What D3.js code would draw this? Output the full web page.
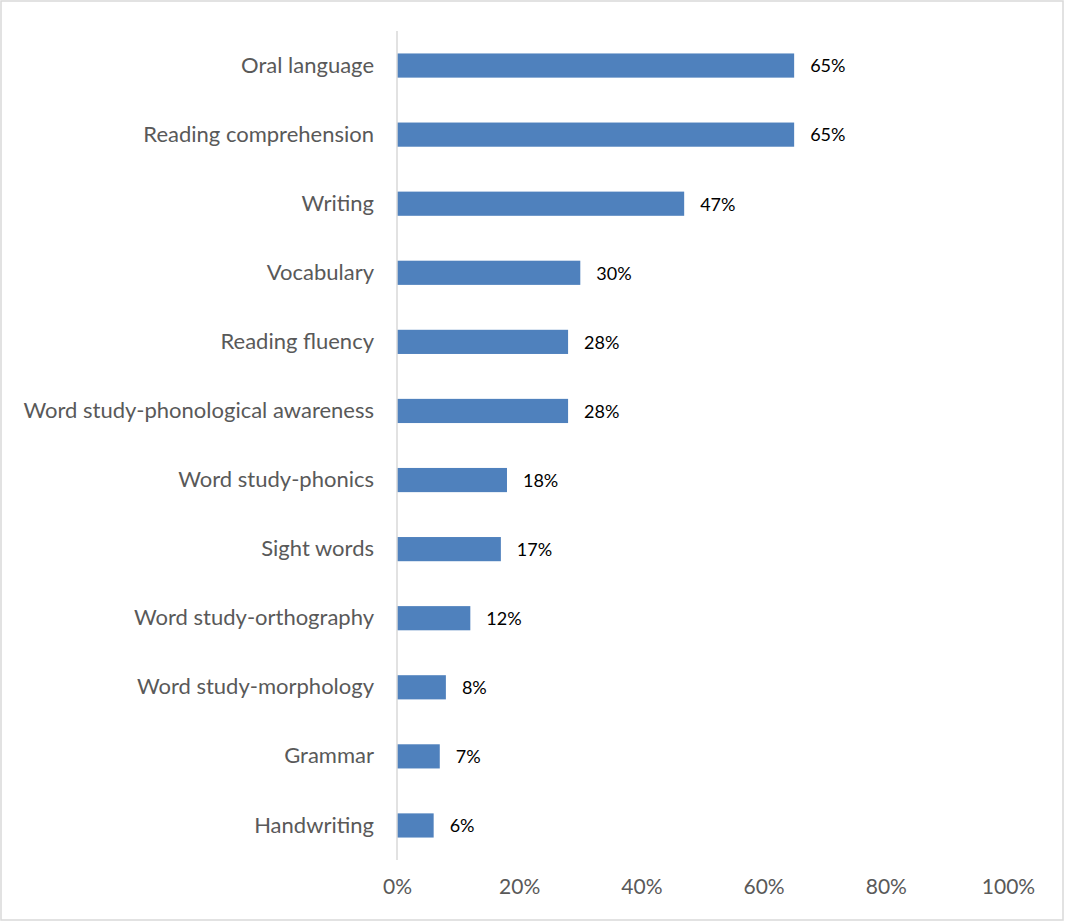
<!DOCTYPE html>
<html>
<head>
<meta charset="utf-8">
<script src="https://cdn.jsdelivr.net/npm/d3@7"></script>
<style>
  html, body { margin: 0; padding: 0; background: #fff; }
  svg { display: block; }
</style>
</head>
<body>
<script>
// Literacy focus areas and share of respondents
const categories = [
  "Oral language", "Reading comprehension", "Writing", "Vocabulary",
  "Reading fluency", "Word study-phonological awareness", "Word study-phonics",
  "Sight words", "Word study-orthography", "Word study-morphology",
  "Grammar", "Handwriting"
];
const values = [0.65, 0.65, 0.47, 0.30, 0.28, 0.28, 0.18, 0.17, 0.12, 0.08, 0.07, 0.06];
const xTicks = [0, 0.2, 0.4, 0.6, 0.8, 1.0];

(function () {
  const W = 1065, H = 922;
  const plotLeft = 397, plotRight = 1008, plotTop = 31, plotBottom = 860;
  const font = "Lato, 'Open Sans', sans-serif";

  const svg = d3.select("body").append("svg").attr("width", W).attr("height", H);

  // outer frame
  svg.append("rect")
    .attr("x", 1).attr("y", 1).attr("width", W - 3).attr("height", H - 3)
    .attr("fill", "#fff").attr("stroke", "#d9d9d9").attr("stroke-width", 1.5);

  const x = d3.scaleLinear().domain([0, 1]).range([plotLeft, plotRight]);
  const y = d3.scaleBand().domain(categories).range([plotTop, plotBottom])
    .paddingInner(0.65).paddingOuter(0.325);

  // bars
  svg.append("g").selectAll("rect").data(values).join("rect")
    .attr("x", x(0))
    .attr("y", (d, i) => y(categories[i]))
    .attr("width", d => x(d) - x(0))
    .attr("height", y.bandwidth())
    .attr("fill", "#4f81bd");

  // value labels
  svg.append("g").selectAll("text").data(values).join("text")
    .attr("x", d => x(d) + 16)
    .attr("y", (d, i) => y(categories[i]) + y.bandwidth() / 2)
    .attr("dy", "0.38em")
    .attr("font-family", font).attr("font-size", 18).attr("fill", "#000")
    .text(d => d3.format(".0%")(d));

  // category axis line
  svg.append("line")
    .attr("x1", x(0)).attr("x2", x(0)).attr("y1", plotTop).attr("y2", plotBottom)
    .attr("stroke", "#d9d9d9").attr("stroke-width", 1.5);

  // category labels
  const yAxis = d3.axisLeft(y).tickSize(0).tickPadding(23);
  const gy = svg.append("g").attr("transform", `translate(${x(0)},0)`).call(yAxis);
  gy.select(".domain").remove();
  gy.selectAll("text").attr("font-family", font).attr("font-size", 22).attr("fill", "#595959");

  // value axis labels
  const xAxis = d3.axisBottom(x).tickValues(xTicks).tickFormat(d3.format(".0%"))
    .tickSize(0).tickPadding(19);
  const gx = svg.append("g").attr("transform", `translate(0,${plotBottom})`).call(xAxis);
  gx.select(".domain").remove();
  gx.selectAll("text").attr("font-family", font).attr("font-size", 21).attr("fill", "#595959");
})();
</script>
</body>
</html>
